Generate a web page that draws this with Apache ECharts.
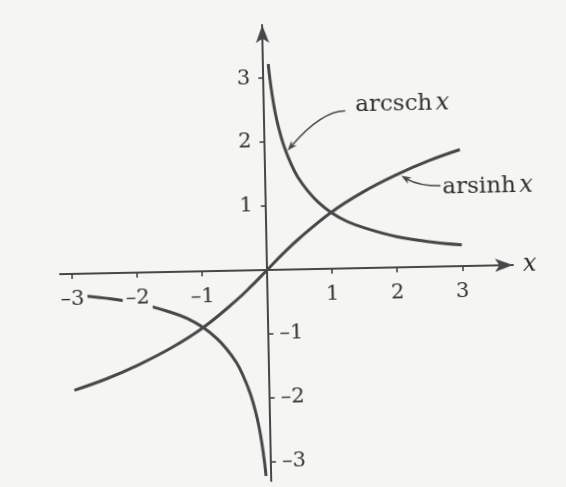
<!DOCTYPE html>
<html>
<head>
<meta charset="utf-8">
<script src="https://cdn.jsdelivr.net/npm/echarts@6/dist/echarts.min.js"></script>
<style>
  html, body { margin: 0; padding: 0; background: #f5f5f3; overflow: hidden; }
  /* the printed figure sits slightly askew on the page */
  #chart { width: 566px; height: 487px; transform: rotate(-1.15deg); transform-origin: 267px 270px; }
</style>
</head>
<body>
<div id="chart"></div>
<script>
// tick positions
const xTicks = [-3, -2, -1, 1, 2, 3];
const yTicksUpper = [1, 2, 3];
const yTicksLower = [-3, -2, -1];

// arsinh x
const arsinhX = [-3, -2.5, -2, -1.5, -1, -0.5, -0.25, 0, 0.25, 0.5, 1, 1.5, 2, 2.5, 3];
const arsinhY = [-1.82, -1.65, -1.44, -1.19, -0.88, -0.48, -0.25, 0, 0.25, 0.48, 0.88, 1.19, 1.44, 1.65, 1.82];

// arcsch x, branch x > 0
const arcschPosX = [0.08, 0.1, 0.13, 0.17, 0.22, 0.3, 0.4, 0.5, 0.65, 0.8, 1, 1.25, 1.5, 2, 2.5, 3];
const arcschPosY = [3.22, 3.0, 2.74, 2.47, 2.22, 1.92, 1.65, 1.44, 1.22, 1.05, 0.88, 0.73, 0.63, 0.48, 0.39, 0.33];

// arcsch x, branch x < 0
const arcschNegX = [-3, -2.5, -2, -1.5, -1.25, -1, -0.8, -0.65, -0.5, -0.4, -0.3, -0.22, -0.17, -0.13, -0.1, -0.08];
const arcschNegY = [-0.33, -0.39, -0.48, -0.63, -0.73, -0.88, -1.05, -1.22, -1.44, -1.65, -1.92, -2.22, -2.47, -2.74, -3.0, -3.22];

const INK = '#474747';
const TEXT = '#303030';
const PAPER = '#f5f5f3';
const FONT = 'DejaVu Serif';

const X_MIN = -3.185, X_MAX = 3.78;
const Y_MIN = -3.3, Y_MAX = 3.83;
const GRID = { left: 60, right: 53, top: 25, bottom: 6, containLabel: false, outerBoundsMode: 'none' };

const pairs = (xs, ys) => xs.map((x, i) => [x, ys[i]]);
const signed = v => (v < 0 ? '\u2013' + Math.abs(v) : String(v));

const tickLabel = {
  color: TEXT, fontFamily: FONT, fontSize: 21, formatter: signed,
  backgroundColor: PAPER, padding: [2, 3]
};
const axisLineStyle = { color: INK, width: 2 };
const tickStyle = { color: INK, width: 1.6 };
const curveStyle = { color: INK, width: 3 };

const chart = echarts.init(document.getElementById('chart'), null, { renderer: 'canvas' });

function axesOption(xOffset, yLeftOffset, yRightOffset) {
  return {
    xAxis: {
      type: 'value', min: X_MIN, max: X_MAX, position: 'bottom', offset: xOffset, z: 5,
      name: 'x', nameLocation: 'end', nameGap: 10,
      nameTextStyle: { color: TEXT, fontFamily: FONT, fontStyle: 'italic', fontSize: 24, verticalAlign: 'middle' },
      axisLine: { onZero: false, symbol: ['none', 'arrow'], symbolSize: [10, 18], lineStyle: axisLineStyle },
      axisTick: { show: true, length: 5, customValues: xTicks, lineStyle: tickStyle },
      axisLabel: Object.assign({ customValues: xTicks, margin: 13 }, tickLabel),
      splitLine: { show: false }
    },
    yAxis: [
      {
        type: 'value', min: Y_MIN, max: Y_MAX, position: 'left', offset: yLeftOffset, z: 5,
        axisLine: { show: true, onZero: false, symbol: ['none', 'arrow'], symbolSize: [10, 18], lineStyle: axisLineStyle },
        axisTick: { show: true, length: 5, customValues: yTicksUpper, lineStyle: tickStyle },
        axisLabel: Object.assign({ customValues: yTicksUpper, margin: 10 }, tickLabel),
        splitLine: { show: false }
      },
      {
        type: 'value', min: Y_MIN, max: Y_MAX, position: 'right', offset: yRightOffset, z: 5,
        axisLine: { show: false, onZero: false },
        axisTick: { show: true, length: 5, customValues: yTicksLower, lineStyle: tickStyle },
        axisLabel: Object.assign({ customValues: yTicksLower, margin: 8 }, tickLabel),
        splitLine: { show: false }
      }
    ]
  };
}

chart.setOption(Object.assign({
  animation: false,
  backgroundColor: 'transparent',
  grid: GRID,
  series: [
    { name: 'arsinh x', type: 'line', data: pairs(arsinhX, arsinhY), smooth: 0.4,
      showSymbol: false, lineStyle: curveStyle, z: 2 },
    { name: 'arcsch x (x>0)', type: 'line', data: pairs(arcschPosX, arcschPosY), smooth: 0.4,
      showSymbol: false, lineStyle: curveStyle, z: 2 },
    { name: 'arcsch x (x<0)', type: 'line', data: pairs(arcschNegX, arcschNegY), smooth: 0.4,
      showSymbol: false, lineStyle: curveStyle, z: 2 }
  ]
}, axesOption(0, 0, 0)));

// Move the three axes so that they cross at the origin
const toPx = p => chart.convertToPixel({ gridIndex: 0 }, p);
const origin = toPx([0, 0]);
const W = chart.getWidth(), H = chart.getHeight();
const gridBottom = H - GRID.bottom;
const gridRight = W - GRID.right;
chart.setOption(axesOption(
  -(gridBottom - origin[1]),
  -(origin[0] - GRID.left),
  -(gridRight - origin[0])
));

// Curve captions with leader arrows, placed in data coordinates
function leader(start, ctrl, tip) {
  const s = toPx(start), c = toPx(ctrl), t = toPx(tip);
  const dx = t[0] - c[0], dy = t[1] - c[1];
  const len = Math.hypot(dx, dy);
  const ux = dx / len, uy = dy / len;
  const nx = -uy, ny = ux;
  const L = 10, HW = 3.6;
  const base = [t[0] - ux * L, t[1] - uy * L];
  const notch = [t[0] - ux * L * 0.7, t[1] - uy * L * 0.7];
  return [
    { type: 'bezierCurve', z: 10,
      shape: { x1: s[0], y1: s[1], cpx1: c[0], cpy1: c[1], x2: notch[0], y2: notch[1] },
      style: { stroke: INK, lineWidth: 1.5, fill: null } },
    { type: 'polygon', z: 10,
      shape: { points: [t, [base[0] + nx * HW, base[1] + ny * HW], notch, [base[0] - nx * HW, base[1] - ny * HW]] },
      style: { fill: INK } }
  ];
}

function caption(pos, name) {
  const p = toPx(pos);
  return {
    type: 'text', z: 10, x: p[0], y: p[1],
    style: {
      text: '{n|' + name + '} {i|x}',
      verticalAlign: 'middle', align: 'left',
      rich: {
        n: { fontFamily: FONT, fontSize: 23, fill: TEXT },
        i: { fontFamily: FONT, fontSize: 24, fontStyle: 'italic', fill: TEXT }
      }
    }
  };
}

chart.setOption({
  graphic: [
    caption([1.405, 2.55], 'arcsch'),
    ...leader([1.25, 2.46], [0.895, 2.47], [0.35, 1.86]),
    caption([2.72, 1.24], 'arsinh'),
    ...leader([2.69, 1.26], [2.35, 1.27], [2.09, 1.43])
  ]
});
</script>
</body>
</html>
